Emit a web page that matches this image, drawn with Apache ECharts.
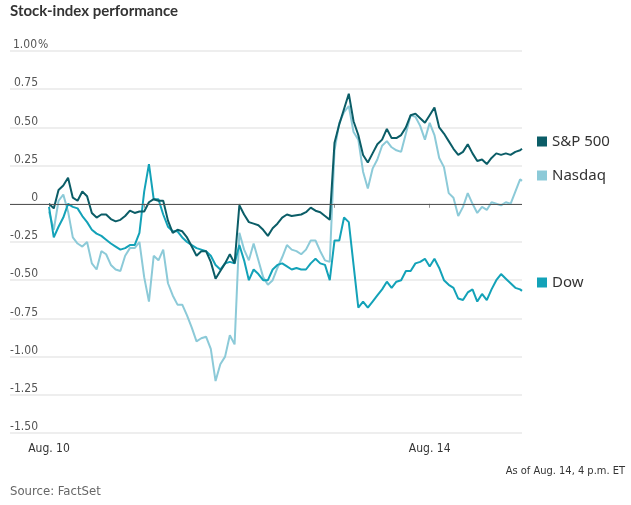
<!DOCTYPE html>
<html>
<head>
<meta charset="utf-8">
<script src="https://cdn.jsdelivr.net/npm/echarts@6/dist/echarts.min.js"></script>
<style>
  html, body { margin: 0; padding: 0; background: #fff; }
  #main { width: 631px; height: 505px; }
</style>
</head>
<body>
<div id="main"></div>
<script>
var mychart = echarts.init(document.getElementById('main'));

// x is measured in trading days from the Aug. 10 open (1 = one full session)
var dayNames = ['Aug. 10', 'Aug. 11', 'Aug. 12', 'Aug. 13', 'Aug. 14'];
var tickDays = [0, 1, 2, 3, 4];
var labelDays = [0, 4];

// sample times, every 0.05 session, last one is the 4 p.m. close on Aug. 14
var times = [];
for (let i = 0; i < 100; i++) {
    times.push(+(i * 0.05).toFixed(2));
}
times.push(4.97);

// % change
var sp500 = [
    0.00, -0.03, 0.09, 0.12, 0.17, 0.04, 0.02, 0.08, 0.05, -0.06,
    -0.09, -0.07, -0.07, -0.10, -0.115, -0.105, -0.08, -0.045, -0.06, -0.05,
    -0.05, 0.01, 0.03, 0.02, 0.02, -0.11, -0.19, -0.17, -0.18, -0.22,
    -0.28, -0.34, -0.31, -0.31, -0.38, -0.49, -0.44, -0.39, -0.33, -0.39,
    -0.01, -0.07, -0.12, -0.13, -0.14, -0.17, -0.21, -0.16, -0.13, -0.09,
    -0.07, -0.08, -0.075, -0.07, -0.055, -0.025, -0.045, -0.055, -0.08, -0.105,
    0.40, 0.52, 0.62, 0.72, 0.54, 0.45, 0.32, 0.27, 0.33, 0.39,
    0.42, 0.49, 0.43, 0.43, 0.45, 0.50, 0.58, 0.59, 0.56, 0.53,
    0.58, 0.63, 0.50, 0.46, 0.41, 0.36, 0.32, 0.34, 0.39, 0.33,
    0.28, 0.29, 0.26, 0.30, 0.33, 0.32, 0.33, 0.32, 0.34, 0.35,
    0.36
];
var nasdaq = [
    -0.05, -0.17, 0.02, 0.06, -0.05, -0.22, -0.26, -0.28, -0.25, -0.39,
    -0.43, -0.31, -0.33, -0.40, -0.43, -0.44, -0.34, -0.29, -0.29, -0.25,
    -0.48, -0.64, -0.34, -0.37, -0.30, -0.52, -0.60, -0.66, -0.66, -0.73,
    -0.81, -0.90, -0.88, -0.87, -0.95, -1.16, -1.05, -1.00, -0.86, -0.92,
    -0.19, -0.30, -0.37, -0.26, -0.37, -0.48, -0.53, -0.50, -0.42, -0.35,
    -0.27, -0.30, -0.31, -0.33, -0.30, -0.24, -0.24, -0.31, -0.37, -0.38,
    0.35, 0.53, 0.60, 0.64, 0.47, 0.42, 0.21, 0.10, 0.23, 0.29,
    0.38, 0.41, 0.37, 0.35, 0.34, 0.46, 0.58, 0.57, 0.51, 0.42,
    0.53, 0.45, 0.30, 0.24, 0.07, 0.04, -0.08, -0.02, 0.07, 0.00,
    -0.06, -0.02, -0.04, 0.01, 0.00, -0.01, 0.01, 0.00, 0.08, 0.16,
    0.15
];
var dow = [
    -0.02, -0.22, -0.15, -0.09, 0.00, -0.02, -0.03, -0.08, -0.12, -0.17,
    -0.195, -0.21, -0.235, -0.26, -0.28, -0.30, -0.29, -0.27, -0.27, -0.19,
    0.08, 0.26, 0.03, 0.03, -0.07, -0.15, -0.18, -0.18, -0.22, -0.25,
    -0.27, -0.29, -0.30, -0.31, -0.34, -0.40, -0.43, -0.39, -0.38, -0.39,
    -0.27, -0.37, -0.50, -0.43, -0.46, -0.50, -0.50, -0.43, -0.40, -0.39,
    -0.41, -0.43, -0.42, -0.43, -0.43, -0.39, -0.36, -0.39, -0.40, -0.50,
    -0.24, -0.24, -0.09, -0.12, -0.40, -0.68, -0.64, -0.68, -0.64, -0.60,
    -0.56, -0.51, -0.55, -0.51, -0.50, -0.44, -0.44, -0.39, -0.38, -0.36,
    -0.41, -0.36, -0.42, -0.50, -0.53, -0.55, -0.62, -0.63, -0.58, -0.56,
    -0.64, -0.59, -0.63, -0.56, -0.50, -0.46, -0.49, -0.52, -0.55, -0.56,
    -0.57
];

const narrow = "'DejaVu Sans Condensed', 'Liberation Sans', sans-serif";

function pairs(vals) {
    return vals.map(function (v, i) { return [times[i], v]; });
}

function legendAt(name, top) {
    return {
        data: [name],
        left: 537,
        top: top,
        padding: 0,
        icon: 'rect',
        itemWidth: 10,
        itemHeight: 10,
        selectedMode: false,
        textStyle: { fontFamily: "'Noto Sans', sans-serif", fontSize: 15, color: '#333' }
    };
}

var option = {
    animation: false,
    backgroundColor: '#fff',
    title: [
        {
            text: 'Stock-index performance',
            left: 10, top: 4, padding: 0,
            textStyle: { fontFamily: 'Lato, sans-serif', fontWeight: 'bold', fontSize: 15, color: '#333' }
        },
        {
            text: 'As of Aug. 14, 4 p.m. ET',
            right: 6, top: 466, padding: 0,
            textStyle: { fontFamily: narrow, fontWeight: 'normal', fontSize: 11, color: '#333' }
        },
        {
            text: 'Source: FactSet',
            left: 10, top: 485, padding: 0,
            textStyle: { fontFamily: narrow, fontWeight: 'normal', fontSize: 13, color: '#666' }
        }
    ],
    legend: [
        legendAt('S&P 500', 134),
        legendAt('Nasdaq', 168),
        legendAt('Dow', 275)
    ],
    grid: {
        left: 10,
        right: 109,
        top: 51,
        bottom: 72
    },
    xAxis: {
        type: 'value',
        min: -0.41,
        max: 4.97,
        axisLine: { show: false },
        splitLine: { show: false },
        axisTick: {
            show: true,
            customValues: tickDays,
            length: 4,
            lineStyle: { color: '#999' }
        },
        axisLabel: {
            customValues: labelDays,
            formatter: function (v) { return dayNames[Math.round(v)]; },
            margin: 10,
            fontFamily: narrow,
            fontSize: 12,
            color: '#333'
        }
    },
    yAxis: {
        type: 'value',
        min: -1.5,
        max: 1,
        interval: 0.25,
        axisLine: { show: false },
        axisTick: { show: false },
        splitLine: { lineStyle: { color: '#e8e8e8', width: 1.5 } },
        axisLabel: {
            inside: true,
            margin: 2,
            align: 'left',
            verticalAlign: 'bottom',
            padding: [0, 0, 0, 0],
            showMinLabel: true,
            showMaxLabel: true,
            formatter: function (v) {
                var s = Math.abs(v) < 1e-9 ? '0' : v.toFixed(2);
                return v > 0.999 ? '{n|' + s + '}{p|%}' : '{n|' + s + '}';
            },
            rich: {
                n: { width: 26, align: 'right', fontFamily: narrow, fontSize: 12, color: '#555' },
                p: { fontFamily: narrow, fontSize: 12, color: '#555' }
            }
        }
    },
    series: [
        {
            name: 'Nasdaq',
            type: 'line',
            data: pairs(nasdaq),
            showSymbol: false,
            symbol: 'none',
            color: '#8ccad8',
            lineStyle: { width: 2, color: '#8ccad8' }
        },
        {
            name: 'Dow',
            type: 'line',
            data: pairs(dow),
            showSymbol: false,
            symbol: 'none',
            color: '#13a2b8',
            lineStyle: { width: 2, color: '#13a2b8' }
        },
        {
            name: 'S&P 500',
            type: 'line',
            data: pairs(sp500),
            showSymbol: false,
            symbol: 'none',
            color: '#0b5d67',
            lineStyle: { width: 2, color: '#0b5d67' },
            markLine: {
                silent: true,
                symbol: ['none', 'none'],
                label: { show: false },
                lineStyle: { color: '#555', width: 1, type: 'solid' },
                data: [{ yAxis: 0 }]
            }
        }
    ]
};

mychart.setOption(option);
</script>
</body>
</html>
